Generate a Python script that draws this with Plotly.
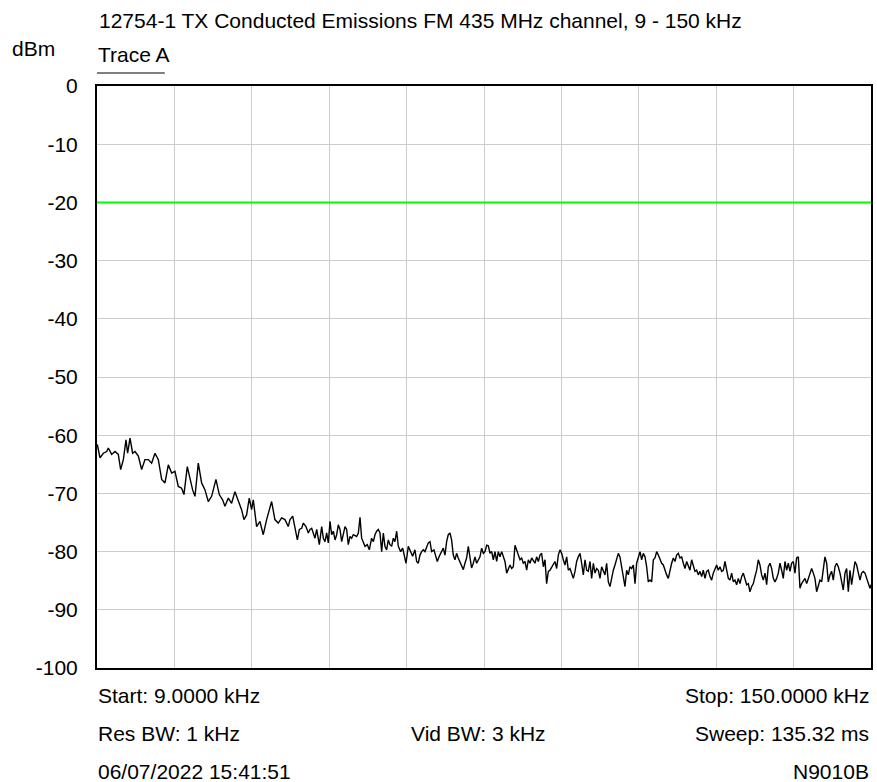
import plotly.graph_objects as go

# ---------------- data ----------------
title_text = "12754-1 TX Conducted Emissions FM 435 MHz channel, 9 - 150 kHz"
y_unit = "dBm"
trace_name = "Trace A"
start_khz = 9.0
stop_khz = 150.0
limit_dbm = -20
y_tick_vals = [0, -10, -20, -30, -40, -50, -60, -70, -80, -90, -100]
y_tick_labels = ["0", "-10", "-20", "-30", "-40", "-50", "-60", "-70", "-80", "-90", "-100"]
footer_left = ["Start: 9.0000 kHz", "Res BW: 1 kHz", "06/07/2022 15:41:51"]
footer_mid = ["", "Vid BW: 3 kHz", ""]
footer_right = ["Stop: 150.0000 kHz", "Sweep: 135.32 ms", "N9010B"]

freq_a = [9.06, 9.55, 10.15, 10.76, 11.06, 11.67, 12.28, 12.88, 13.31, 13.80,
          14.28, 14.58, 15.01, 15.49, 15.92, 16.53, 17.13, 17.74, 18.35, 18.95,
          19.56, 20.17, 20.78, 21.38, 21.99, 22.60, 23.20, 23.81, 24.42, 24.84,
          25.45, 25.94, 26.42, 26.85, 27.45, 28.06, 28.67, 29.27, 29.88, 30.67,
          31.28, 31.88, 32.31, 32.92, 33.52, 34.13, 34.74, 35.34, 35.77, 36.25,
          36.74, 37.16, 37.47, 38.08, 38.68, 39.29, 39.90, 40.81, 41.41, 42.02,
          42.63, 43.24, 43.84]
level_a = [-61.6, -63.9, -63.1, -62.8, -62.2, -63.3, -62.8, -63.3, -65.9, -64.2,
           -60.8, -63.1, -60.5, -63.1, -62.8, -63.6, -65.9, -64.2, -64.2, -64.8,
           -63.1, -64.2, -67.6, -68.2, -65.1, -66.5, -66.2, -68.8, -69.1, -70.2,
           -65.4, -67.6, -69.4, -70.5, -64.8, -68.2, -69.4, -71.4, -70.5, -67.6,
           -70.2, -71.1, -72.2, -70.8, -71.7, -69.7, -71.4, -72.8, -74.5, -73.7,
           -70.8, -72.8, -71.1, -75.7, -74.8, -77.1, -74.5, -71.4, -74.5, -75.1,
           -74.2, -74.5, -75.7]

freq_b = [44.16, 44.65, 45.07, 45.50, 45.86, 46.29, 46.59, 47.07, 47.50, 47.80,
          48.11, 48.41, 48.71, 49.02, 49.32, 49.50, 49.93, 50.23, 50.54, 50.84,
          51.14, 51.45, 51.75, 52.05, 52.36, 52.66, 52.96, 53.27, 53.57, 53.87,
          54.18, 54.48, 54.78, 55.09, 55.39, 55.69, 56.30, 56.61, 56.91, 57.21,
          57.52, 57.82, 58.24, 58.61, 59.03, 59.34, 59.64, 59.94, 60.25, 60.55,
          60.86, 61.16, 61.46, 61.76, 62.07, 62.37, 62.68, 62.98, 63.28, 63.59,
          63.89, 64.31, 64.68, 64.92, 65.29, 65.71, 66.13, 66.50, 66.92, 67.23,
          67.53, 67.83, 68.14, 68.44, 68.75, 69.05, 69.35, 69.66, 69.96, 70.38,
          70.75, 70.99, 71.35, 71.78, 72.08, 72.39, 72.69, 72.99, 73.30, 73.60,
          73.90, 74.21, 74.51, 74.81, 75.12, 75.42, 75.73, 76.03, 76.33, 76.64,
          76.94, 77.24, 77.55]
level_b = [-74.5, -73.9, -76.0, -78.0, -76.2, -76.0, -75.1, -75.7, -76.8, -76.2,
           -76.0, -77.1, -77.7, -76.2, -77.7, -78.8, -75.7, -77.7, -78.3, -76.8,
           -78.5, -74.8, -77.1, -76.5, -78.0, -77.1, -75.4, -76.2, -78.3, -76.8,
           -75.7, -76.2, -78.8, -77.4, -77.7, -77.1, -77.4, -76.8, -74.1, -77.7,
           -78.3, -79.1, -78.8, -79.7, -77.7, -78.3, -77.1, -76.5, -76.2, -76.8,
           -80.0, -76.8, -79.1, -79.7, -78.0, -78.8, -79.1, -77.7, -78.3, -76.5,
           -79.1, -80.0, -79.4, -80.6, -82.0, -79.1, -80.0, -80.8, -79.7, -81.7,
           -82.0, -80.6, -80.0, -79.7, -80.0, -79.1, -78.5, -78.3, -80.0, -79.7,
           -81.1, -81.7, -80.8, -80.0, -79.4, -80.6, -78.3, -77.1, -76.8, -78.0,
           -80.6, -81.4, -80.3, -81.1, -81.7, -82.3, -83.1, -82.0, -81.1, -79.1,
           -81.4, -82.8, -82.0]

freq_c = [77.86, 78.16, 78.47, 78.77, 79.07, 79.38, 79.68, 79.99, 80.29, 80.59,
          80.90, 81.20, 81.50, 81.81, 82.11, 82.41, 82.72, 83.02, 83.32, 83.63,
          83.93, 84.24, 84.54, 84.84, 85.15, 85.45, 85.75, 86.06, 86.36, 86.66,
          86.97, 87.27, 87.58, 87.88, 88.18, 88.49, 88.79, 89.09, 89.40, 89.70,
          90.00, 90.31, 90.61, 90.91, 91.22, 91.52, 91.83, 92.13, 92.43, 92.74,
          93.04, 93.34, 93.65, 93.95, 94.25, 94.56, 94.86, 95.17, 95.47, 95.77,
          96.08, 96.38, 96.68, 96.99, 97.29, 97.59, 97.90, 98.20, 98.50, 98.81,
          99.11, 99.42, 99.72, 100.02, 100.33, 100.63, 100.93, 101.24, 101.54, 101.84,
          102.15, 102.45, 102.76, 103.06, 103.36, 103.67, 103.97, 104.27, 104.58, 104.88,
          105.18, 105.49, 105.79, 106.09, 106.40, 106.70, 107.01, 107.31, 107.61, 107.92,
          108.22, 108.52, 108.83, 109.13, 109.43, 109.74, 110.04, 110.35, 110.65, 110.95,
          111.26, 111.56, 111.86, 112.17, 112.47, 112.77, 113.08]
level_c = [-80.9, -82.0, -81.4, -80.9, -79.4, -80.3, -80.0, -78.9, -79.0, -80.3,
           -80.0, -81.4, -80.0, -81.7, -80.0, -80.9, -80.0, -81.1, -81.7, -83.7,
           -82.9, -82.3, -82.9, -82.6, -78.9, -79.7, -80.3, -81.4, -81.1, -82.0,
           -81.7, -83.2, -81.4, -82.0, -81.1, -81.7, -82.0, -80.9, -81.7, -80.6,
           -80.3, -82.6, -81.4, -85.5, -83.4, -83.2, -82.6, -82.0, -81.7, -82.9,
           -80.6, -79.7, -80.3, -81.4, -82.3, -80.9, -83.2, -82.9, -83.7, -84.6,
           -83.4, -81.7, -80.9, -80.3, -82.0, -84.0, -81.4, -83.2, -83.4, -81.7,
           -84.6, -82.0, -83.7, -82.9, -83.2, -84.6, -82.6, -83.4, -84.0, -82.0,
           -85.2, -86.0, -84.3, -83.2, -82.3, -81.1, -80.3, -80.9, -82.9, -84.6,
           -86.0, -83.2, -84.0, -82.6, -82.9, -82.3, -85.5, -82.0, -80.9, -80.0,
           -81.4, -80.3, -80.9, -82.6, -85.2, -84.9, -85.2, -81.4, -81.1, -80.0,
           -80.6, -81.4, -82.0, -82.3, -83.2, -84.0, -84.6]

freq_d = [113.38, 113.68, 113.99, 114.29, 114.59, 114.90, 115.20, 115.51, 115.81, 116.11,
          116.42, 116.72, 117.02, 117.33, 117.63, 117.93, 118.24, 118.54, 118.84, 119.15,
          119.45, 119.76, 120.06, 120.36, 120.67, 120.97, 121.27, 121.58, 121.88, 122.18,
          122.49, 122.79, 123.10, 123.40, 123.70, 124.01, 124.31, 124.61, 124.92, 125.22,
          125.52, 125.83, 126.13, 126.43, 126.74, 127.04, 127.35, 127.65, 127.95, 128.26,
          128.56, 128.86, 129.17, 129.47, 129.77, 130.08, 130.38, 130.69, 130.99, 131.29,
          131.60, 131.90, 132.20, 132.51, 132.81, 133.11, 133.42, 133.72, 134.02, 134.33,
          134.63, 134.94, 135.24, 135.54, 135.85, 136.15, 136.45, 136.76, 137.06, 137.36,
          137.67, 137.97, 138.28, 138.58, 138.88, 139.19, 139.49, 139.79, 140.10, 140.40,
          140.70, 141.01, 141.31, 141.61, 141.92, 142.22, 142.53, 142.83, 143.13, 143.44,
          143.74, 144.04, 144.35, 144.65, 144.95, 145.26, 145.56, 145.87, 146.17, 146.47,
          146.78, 147.08, 147.38, 147.69, 147.99, 148.29, 148.60, 148.90, 149.20, 149.51,
          149.81, 150.00]
level_d = [-83.2, -82.0, -81.1, -81.7, -80.6, -80.3, -81.1, -80.9, -82.0, -82.9,
           -81.7, -82.3, -83.2, -81.4, -82.6, -83.4, -83.2, -84.0, -83.4, -84.3,
           -83.2, -84.6, -83.4, -83.2, -84.3, -84.9, -83.7, -82.9, -82.3, -83.2,
           -82.6, -83.4, -83.2, -81.7, -82.9, -84.6, -84.9, -83.7, -85.2, -84.9,
           -85.7, -84.6, -85.5, -84.3, -83.7, -84.9, -85.7, -85.5, -86.9, -86.0,
           -85.5, -84.3, -83.2, -81.4, -82.3, -84.0, -84.9, -83.7, -85.7, -82.6,
           -82.0, -82.9, -84.6, -85.2, -84.6, -83.7, -82.0, -83.2, -84.6, -81.7,
           -83.2, -82.0, -83.4, -82.0, -81.7, -83.7, -81.1, -80.9, -86.3, -85.5,
           -84.9, -84.6, -85.5, -84.6, -84.0, -82.9, -83.7, -84.6, -86.9, -86.0,
           -84.9, -85.2, -82.9, -80.9, -82.0, -85.2, -84.0, -83.4, -84.9, -82.6,
           -82.0, -82.6, -83.7, -84.9, -86.6, -83.7, -82.9, -86.9, -83.2, -85.7,
           -83.2, -81.7, -82.3, -83.7, -84.9, -83.7, -83.4, -83.7, -84.6, -85.5,
           -86.3, -85.7]

freq_khz = freq_a + freq_b + freq_c + freq_d
level_dbm = level_a + level_b + level_c + level_d

# ---------------- figure ----------------
FONT = "Liberation Sans, Arial, sans-serif"
FS = 21

fig = go.Figure()
fig.add_trace(go.Scatter(x=[start_khz, stop_khz], y=[limit_dbm, limit_dbm], mode="lines",
                         line=dict(color="#00ff00", width=2), hoverinfo="skip", showlegend=False))
fig.add_trace(go.Scatter(x=freq_khz, y=level_dbm, mode="lines",
                         line=dict(color="#000000", width=1.4), showlegend=False, name=trace_name))

fig.update_layout(
    width=877, height=782,
    margin=dict(l=97, r=4, t=86, b=114),
    paper_bgcolor="white", plot_bgcolor="white",
    font=dict(family=FONT, size=FS, color="black"),
    showlegend=False,
)
fig.update_xaxes(range=[start_khz, stop_khz], tickmode="linear", tick0=start_khz,
                 dtick=(stop_khz - start_khz) / 10, showticklabels=False, ticks="",
                 showgrid=True, gridcolor="#cccccc", gridwidth=1.2, zeroline=False,
                 showline=True, linecolor="black", linewidth=2, mirror=True)
fig.update_yaxes(range=[-100, 0], tickmode="array", tickvals=y_tick_vals, ticktext=y_tick_labels,
                 ticks="", ticklabelstandoff=13, tickfont=dict(family=FONT, size=FS),
                 showgrid=True, gridcolor="#cccccc", gridwidth=1.2, zeroline=False,
                 showline=True, linecolor="black", linewidth=2, mirror=True)

PL, PR, PT, PB = 97, 873, 86, 668
def px(x):
    return (x - PL) / (PR - PL)
def py(y):
    return (PB - y) / (PB - PT)

ann = []
ann.append(dict(text=title_text, x=px(97), y=py(21), xanchor="left", yanchor="middle"))
ann.append(dict(text=y_unit, x=px(10), y=py(48), xanchor="left", yanchor="middle"))
ann.append(dict(text=trace_name, x=px(96), y=py(55), xanchor="left", yanchor="middle"))
rows_y = [695, 733, 771]
for i in range(3):
    ann.append(dict(text=footer_left[i], x=px(96), y=py(rows_y[i]), xanchor="left", yanchor="middle"))
    if footer_mid[i]:
        ann.append(dict(text=footer_mid[i], x=px(479), y=py(rows_y[i]), xanchor="center", yanchor="middle"))
    ann.append(dict(text=footer_right[i], x=px(873), y=py(rows_y[i]), xanchor="right", yanchor="middle"))
for a in ann:
    a.update(xref="paper", yref="paper", showarrow=False, font=dict(family=FONT, size=FS, color="black"))
fig.update_layout(annotations=ann)

fig.add_shape(type="line", xref="paper", yref="paper", x0=px(97), x1=px(165), y0=py(73), y1=py(73),
              line=dict(color="black", width=1))

fig.write_html("out.html", config={"displayModeBar": False},
               post_script="document.body.style.margin='0';document.body.style.overflow='hidden';")
